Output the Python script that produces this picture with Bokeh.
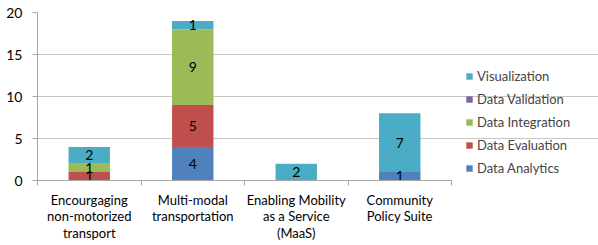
from bokeh.plotting import figure
from bokeh.models import Range1d, FixedTicker, Legend, LegendItem, ColumnDataSource
from bokeh.embed import file_html
from bokeh.resources import INLINE
from bokeh.core.properties import value

categories = ["Encourgaging\nnon-motorized\ntransport", "Multi-modal\ntransportation",
              "Enabling Mobility\nas a Service\n(MaaS)", "Community\nPolicy Suite"]
series = ["Data Analytics", "Data Evaluation", "Data Integration", "Data Validation", "Visualization"]
data_analytics = [0, 4, 0, 1]
data_evaluation = [1, 5, 0, 0]
data_integration = [1, 9, 0, 0]
data_validation = [0, 0, 0, 0]
visualization = [2, 1, 2, 7]
colors = ["#4F81BD", "#C0504D", "#9BBB59", "#8064A2", "#4BACC6"]
y_ticks = [0, 5, 10, 15, 20]

FONT = "Lato"
GRID = "#c6c6c6"
AXIS = "#a6a6a6"

values = [data_analytics, data_evaluation, data_integration, data_validation, visualization]
n = len(categories)
xs = [i + 0.5 for i in range(n)]

src = {"x": xs}
for name, vals in zip(series, values):
    src[name] = vals
source = ColumnDataSource(src)

W, H = 598, 245
LEFT, PLOT_RIGHT = 37, 451
# frame spans to the right edge (legend lives there); the data area ends at PLOT_RIGHT
x_end = n * (W - LEFT) / (PLOT_RIGHT - LEFT)

p = figure(width=W, height=H, x_range=Range1d(0, x_end), y_range=Range1d(0, 20),
           output_backend="svg", toolbar_location=None,
           min_border_left=LEFT, min_border_top=12, min_border_bottom=65, min_border_right=0)
p.outline_line_color = None
p.background_fill_color = "white"

renderers = p.vbar_stack(series, x="x", width=0.4, source=source, color=colors, line_color=None)

# data labels
lx, ly, lt = [], [], []
base = [0] * n
for vals in values:
    for i, v in enumerate(vals):
        if v:
            lx.append(xs[i]); ly.append(base[i] + v / 2); lt.append(str(v))
        base[i] += v
p.text(x=lx, y=ly, text=lt, text_align="center", text_baseline="middle",
       text_font=value(FONT), text_font_size="14px", text_color="black")

# axes
xa = p.xaxis[0]
xa.bounds = (0, n)
xa.ticker = FixedTicker(ticks=xs, minor_ticks=list(range(n + 1)))
xa.major_label_overrides = {x: c for x, c in zip(xs, categories)}
xa.major_tick_out = 0
xa.major_tick_in = 0
xa.minor_tick_out = 5
xa.minor_tick_in = 0
xa.minor_tick_line_color = AXIS
xa.axis_line_color = AXIS
xa.major_label_text_font = FONT
xa.major_label_text_font_size = "13px"
xa.major_label_text_line_height = 1.05
xa.major_label_text_color = "black"
xa.major_label_standoff = 6

ya = p.yaxis[0]
ya.ticker = FixedTicker(ticks=y_ticks)
ya.major_tick_out = 5
ya.major_tick_in = 0
ya.minor_tick_line_color = None
ya.axis_line_color = AXIS
ya.major_tick_line_color = AXIS
ya.major_label_text_font = FONT
ya.major_label_text_font_size = "14px"
ya.major_label_text_color = "black"
ya.major_label_standoff = 10

p.xgrid.grid_line_color = None
p.ygrid.ticker = FixedTicker(ticks=y_ticks)
p.ygrid.grid_line_color = GRID
p.ygrid.bounds = (0, n)

items = [LegendItem(label=s, renderers=[r]) for s, r in zip(series, renderers)][::-1]
legend = Legend(items=items, location=(PLOT_RIGHT - LEFT + 14, 4), padding=3, margin=0, spacing=7,
                glyph_width=8, glyph_height=8, label_height=16, label_standoff=4,
                label_text_font=FONT, label_text_font_size="13px",
                border_line_color=None, background_fill_alpha=0)
p.add_layout(legend, "center")

open("out.html", "w").write(file_html(p, INLINE))
